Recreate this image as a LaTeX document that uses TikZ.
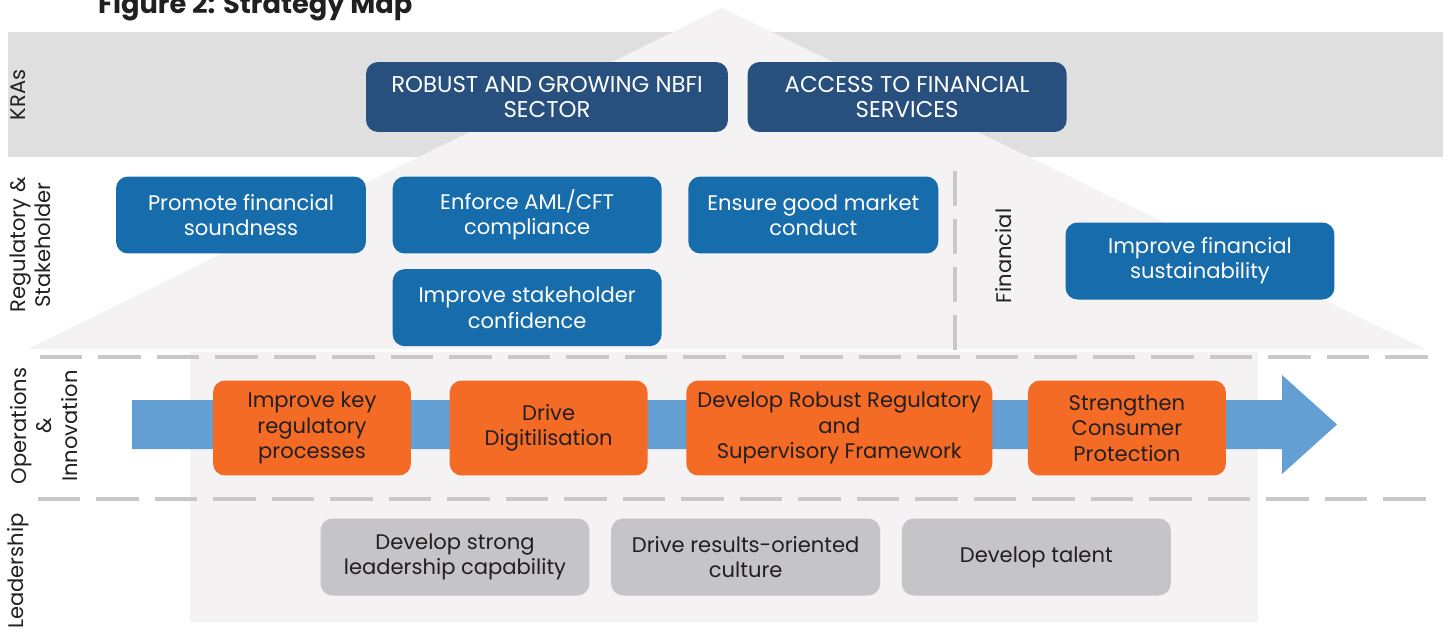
\documentclass[tikz,border=0pt]{standalone}
\usepackage{fontspec}
\setmainfont{Poppins}
\usetikzlibrary{positioning}

\definecolor{bandgray}{HTML}{DFDFDF}
\definecolor{housegray}{HTML}{F4F2F3}
\definecolor{dashgray}{HTML}{C8C8C8}
\definecolor{kranavy}{HTML}{27507F}
\definecolor{regblue}{HTML}{176CAC}
\definecolor{flowblue}{HTML}{639FD3}
\definecolor{opsorange}{HTML}{F46B26}
\definecolor{leadgray}{HTML}{C5C4C8}
\definecolor{ink}{HTML}{231F20}

\begin{document}
\begin{tikzpicture}[x=0.02cm, y=-0.02cm,
  every node/.style={font=\fontsize{12}{14.4}\selectfont, text=ink},
  box/.style={rounded corners=0.24cm, align=center, inner sep=1pt},
  kra box/.style={box, fill=kranavy, text=white, minimum height=1.4cm,
    font=\fontsize{13}{14.6}\selectfont},
  reg box/.style={box, fill=regblue, text=white, minimum width=5cm, minimum height=1.54cm},
  ops box/.style={box, fill=opsorange, minimum width=3.96cm, minimum height=1.9cm},
  lead box/.style={box, fill=leadgray, minimum width=5.38cm, minimum height=1.54cm},
  lane/.style={rotate=90, align=center},
  sep line/.style={dashgray, line width=2.2pt, dash pattern=on 0.85cm off 0.32cm}]

\useasboundingbox (0,0) rectangle (1448,633);
\clip (0,0) rectangle (1448,633);

% band, roof and body of the house
\fill[bandgray] (8,32) rectangle (1443,157);
\fill[housegray] (28,349) -- (722,8) -- (1425,349) -- cycle;
\fill[housegray] (190,352) rectangle (1258,622);

% separators
\draw[sep line] (40,357) -- (1432,357);
\draw[sep line] (38,499) -- (1430,499);
\draw[sep line, line width=2.6pt, dash pattern=on 0.7cm off 0.26cm] (955,171) -- (955,350);

\node[anchor=base west, font=\fontsize{15.5}{18}\selectfont\bfseries] (title) at (92,13) {Figure 2: Strategy Map};

% lane labels
\node[lane] (kras) at (18,95) {KRAs};
\node[lane] (regstake) at (30,245) {Regulatory \&\\Stakeholder};
\node[lane] (opsinno) at (44,426) {Operations\\\&\\Innovation};
\node[lane] (leader) at (18,571) {Leadership};
\node[lane] (financial) at (1004,256) {Financial};

% flow arrow behind the operations boxes
\fill[flowblue] (132,400) -- (1282,400) -- (1282,375) -- (1337,424.5)
  -- (1282,474) -- (1282,449) -- (132,449) -- cycle;

% KRAs
\node[kra box, minimum width=7.24cm] (robust) at (547,97) {ROBUST AND GROWING NBFI\\SECTOR};
\node[kra box, minimum width=6.38cm, right=0.38cm of robust] (access) {ACCESS TO FINANCIAL\\SERVICES};

% regulatory & stakeholder, financial
\node[reg box] (soundness) at (241,215) {Promote financial\\soundness};
\node[reg box, minimum width=5.38cm, right=0.52cm of soundness] (aml) {Enforce AML/CFT\\compliance};
\node[reg box, right=0.52cm of aml] (conduct) {Ensure good market\\conduct};
\node[reg box, minimum width=5.38cm, below=0.3cm of aml] (confidence) {Improve stakeholder\\confidence};
\node[reg box, minimum width=5.38cm] (sustain) at (1200,261) {Improve financial\\sustainability};

% operations & innovation
\node[ops box] (processes) at (312,428) {Improve key\\regulatory\\processes};
\node[ops box, right=0.76cm of processes] (digital) {Drive\\Digitilisation};
\node[ops box, minimum width=6.12cm, right=0.76cm of digital] (framework) {Develop Robust Regulatory\\and\\Supervisory Framework};
\node[ops box, right=0.7cm of framework] (consumer) {Strengthen\\Consumer\\Protection};

% leadership
\node[lead box] (strong) at (455,557) {Develop strong\\leadership capability};
\node[lead box, right=0.42cm of strong] (results) {Drive results-oriented\\culture};
\node[lead box, right=0.42cm of results] (talent) {Develop talent};
\end{tikzpicture}
\end{document}
